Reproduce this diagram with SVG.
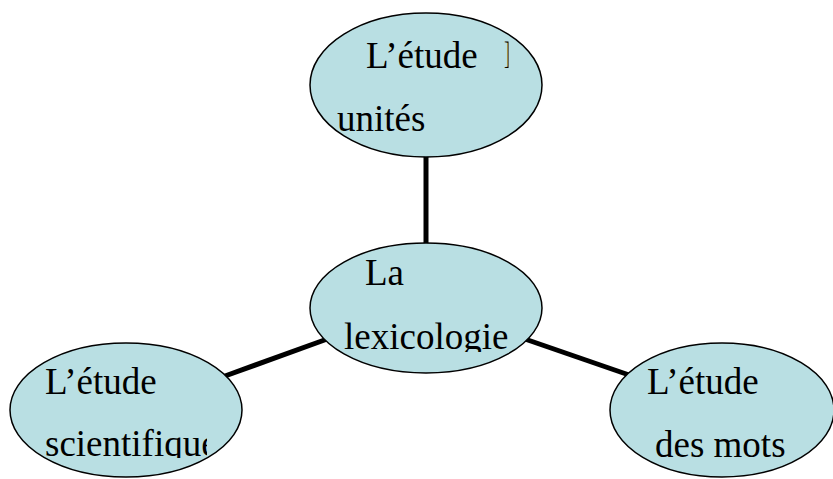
<svg xmlns="http://www.w3.org/2000/svg" width="833" height="479" viewBox="0 0 833 479">
<style>
.n{fill:#b9dfe3;stroke:#000;stroke-width:1.5}
.t{font-family:"Liberation Serif","Times New Roman",serif;font-size:37px;fill:#000}
.c{stroke:#000;stroke-width:5;fill:none}
</style>
<defs>
<clipPath id="c1"><rect x="330" y="30" width="178.5" height="120"/></clipPath>
<clipPath id="c2"><rect x="330" y="250" width="190" height="102"/></clipPath>
<clipPath id="c3"><rect x="30" y="350" width="177" height="108"/></clipPath>
<clipPath id="c4"><rect x="630" y="350" width="190" height="115"/></clipPath>
</defs>
<g id="connectors">
<line class="c" x1="426" y1="150" x2="426" y2="250"/>
<line class="c" x1="225" y1="376" x2="330" y2="338"/>
<line class="c" x1="522" y1="338" x2="632" y2="376"/>
</g>
<g id="top">
<ellipse class="n" cx="426" cy="85" rx="116" ry="72"/>
<g clip-path="url(#c1)"><text class="t" x="366" y="68">L’étude</text><text class="t" x="504" y="68">les</text><text class="t" x="337" y="131">unités</text></g>
</g>
<g id="center">
<ellipse class="n" cx="426" cy="308" rx="116" ry="65"/>
<g clip-path="url(#c2)"><text class="t" x="365" y="285">La</text><text class="t" x="344" y="349">lexicologie</text></g>
</g>
<g id="left">
<ellipse class="n" cx="126" cy="410" rx="116" ry="67"/>
<g clip-path="url(#c3)"><text class="t" x="45" y="394">L’étude</text><text class="t" x="45" y="456">scientifique</text></g>
</g>
<g id="right">
<ellipse class="n" cx="722" cy="410" rx="112" ry="67"/>
<g clip-path="url(#c4)"><text class="t" x="647" y="394">L’étude</text><text class="t" x="655" y="457">des mots</text></g>
</g>
</svg>
